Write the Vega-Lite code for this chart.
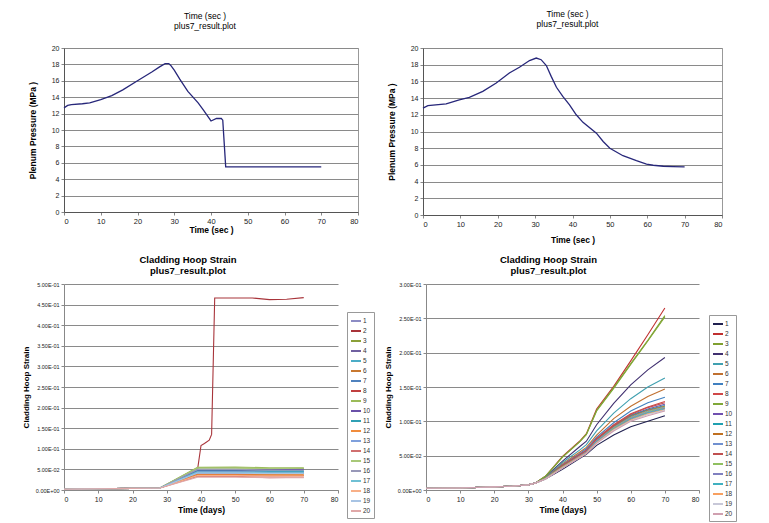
{
"$schema": "https://vega.github.io/schema/vega-lite/v6.json",
"padding": {"left": 22, "top": 9, "right": 0, "bottom": 0},
"background": "#ffffff",
"config": {
  "font": "Liberation Sans",
  "view": {"stroke": null},
  "axis": {"labelColor": "#222222", "titleColor": "#000000", "labelFont": "Liberation Sans", "titleFont": "Liberation Sans", "tickColor": "#888888", "domainColor": "#888888", "gridColor": "#8a8a8a", "gridOpacity": 1, "titleFontWeight": "bold", "tickSize": 3, "labelPadding": 2},
  "title": {"font": "Liberation Sans", "color": "#000000"},
  "legend": {"labelFont": "Liberation Sans", "labelColor": "#333333"}
},
"datasets": {
  "p1": [
    {"t":0,"v":12.7},{"t":1,"v":13.0},{"t":2,"v":13.1},{"t":5,"v":13.2},{"t":7,"v":13.3},{"t":10,"v":13.7},{"t":13,"v":14.2},{"t":16,"v":14.9},{"t":20,"v":16.0},{"t":24,"v":17.1},{"t":26,"v":17.7},{"t":27.5,"v":18.1},{"t":28.5,"v":18.1},{"t":29,"v":17.9},{"t":30,"v":17.3},{"t":31.5,"v":16.2},{"t":33.7,"v":14.7},{"t":36.5,"v":13.3},{"t":38,"v":12.4},{"t":40,"v":11.1},{"t":41.5,"v":11.4},{"t":42.8,"v":11.4},{"t":43.2,"v":11.2},{"t":44,"v":5.5},{"t":70,"v":5.5}
  ],
  "p2": [
    {"t":0,"v":12.8},{"t":1.3,"v":13.1},{"t":6.2,"v":13.3},{"t":9.7,"v":13.8},{"t":12.4,"v":14.1},{"t":16,"v":14.8},{"t":19.6,"v":15.8},{"t":23.1,"v":17.0},{"t":25.8,"v":17.7},{"t":28.5,"v":18.5},{"t":30.3,"v":18.8},{"t":31.6,"v":18.6},{"t":33,"v":17.9},{"t":34.3,"v":16.6},{"t":35.7,"v":15.3},{"t":37.4,"v":14.2},{"t":39.2,"v":13.2},{"t":41,"v":12.0},{"t":42.8,"v":11.1},{"t":46.4,"v":9.8},{"t":48.2,"v":8.8},{"t":50,"v":8.0},{"t":53.5,"v":7.1},{"t":57.1,"v":6.5},{"t":59.8,"v":6.1},{"t":61.6,"v":5.96},{"t":64.3,"v":5.84},{"t":66.9,"v":5.8},{"t":70,"v":5.76}
  ],
  "p3": [
    {"t":0,"s":1,"v":0.002},{"t":10,"s":1,"v":0.003},{"t":20,"s":1,"v":0.004},{"t":28,"s":1,"v":0.005},{"t":39,"s":1,"v":0.040},{"t":50,"s":1,"v":0.040},{"t":60,"s":1,"v":0.039},{"t":70,"s":1,"v":0.040},
    {"t":0,"s":2,"v":0.002},{"t":10,"s":2,"v":0.003},{"t":20,"s":2,"v":0.004},{"t":28,"s":2,"v":0.005},{"t":39,"s":2,"v":0.050},{"t":40,"s":2,"v":0.108},{"t":41,"s":2,"v":0.113},{"t":42.4,"s":2,"v":0.121},{"t":43.1,"s":2,"v":0.135},{"t":44,"s":2,"v":0.466},{"t":50,"s":2,"v":0.466},{"t":55,"s":2,"v":0.466},{"t":60,"s":2,"v":0.462},{"t":65,"s":2,"v":0.463},{"t":70,"s":2,"v":0.467},
    {"t":0,"s":3,"v":0.002},{"t":10,"s":3,"v":0.003},{"t":20,"s":3,"v":0.004},{"t":28,"s":3,"v":0.005},{"t":39,"s":3,"v":0.054},{"t":50,"s":3,"v":0.054},{"t":60,"s":3,"v":0.052},{"t":70,"s":3,"v":0.052},
    {"t":0,"s":4,"v":0.002},{"t":10,"s":4,"v":0.003},{"t":20,"s":4,"v":0.004},{"t":28,"s":4,"v":0.005},{"t":39,"s":4,"v":0.045},{"t":50,"s":4,"v":0.045},{"t":60,"s":4,"v":0.043},{"t":70,"s":4,"v":0.044},
    {"t":0,"s":5,"v":0.002},{"t":10,"s":5,"v":0.003},{"t":20,"s":5,"v":0.004},{"t":28,"s":5,"v":0.005},{"t":39,"s":5,"v":0.048},{"t":50,"s":5,"v":0.048},{"t":60,"s":5,"v":0.047},{"t":70,"s":5,"v":0.047},
    {"t":0,"s":6,"v":0.002},{"t":10,"s":6,"v":0.003},{"t":20,"s":6,"v":0.004},{"t":28,"s":6,"v":0.005},{"t":39,"s":6,"v":0.038},{"t":50,"s":6,"v":0.038},{"t":60,"s":6,"v":0.037},{"t":70,"s":6,"v":0.037},
    {"t":0,"s":7,"v":0.002},{"t":10,"s":7,"v":0.003},{"t":20,"s":7,"v":0.004},{"t":28,"s":7,"v":0.005},{"t":39,"s":7,"v":0.042},{"t":50,"s":7,"v":0.042},{"t":60,"s":7,"v":0.041},{"t":70,"s":7,"v":0.041},
    {"t":0,"s":8,"v":0.002},{"t":10,"s":8,"v":0.003},{"t":20,"s":8,"v":0.004},{"t":28,"s":8,"v":0.005},{"t":39,"s":8,"v":0.036},{"t":50,"s":8,"v":0.036},{"t":60,"s":8,"v":0.034},{"t":70,"s":8,"v":0.035},
    {"t":0,"s":9,"v":0.002},{"t":10,"s":9,"v":0.003},{"t":20,"s":9,"v":0.004},{"t":28,"s":9,"v":0.005},{"t":39,"s":9,"v":0.055},{"t":50,"s":9,"v":0.056},{"t":60,"s":9,"v":0.054},{"t":70,"s":9,"v":0.054},
    {"t":0,"s":10,"v":0.002},{"t":10,"s":10,"v":0.003},{"t":20,"s":10,"v":0.004},{"t":28,"s":10,"v":0.005},{"t":39,"s":10,"v":0.047},{"t":50,"s":10,"v":0.047},{"t":60,"s":10,"v":0.050},{"t":70,"s":10,"v":0.050},
    {"t":0,"s":11,"v":0.002},{"t":10,"s":11,"v":0.003},{"t":20,"s":11,"v":0.004},{"t":28,"s":11,"v":0.005},{"t":39,"s":11,"v":0.046},{"t":50,"s":11,"v":0.046},{"t":60,"s":11,"v":0.045},{"t":70,"s":11,"v":0.045},
    {"t":0,"s":12,"v":0.002},{"t":10,"s":12,"v":0.003},{"t":20,"s":12,"v":0.004},{"t":28,"s":12,"v":0.005},{"t":39,"s":12,"v":0.037},{"t":50,"s":12,"v":0.037},{"t":60,"s":12,"v":0.036},{"t":70,"s":12,"v":0.036},
    {"t":0,"s":13,"v":0.002},{"t":10,"s":13,"v":0.003},{"t":20,"s":13,"v":0.004},{"t":28,"s":13,"v":0.005},{"t":39,"s":13,"v":0.044},{"t":50,"s":13,"v":0.044},{"t":60,"s":13,"v":0.043},{"t":70,"s":13,"v":0.043},
    {"t":0,"s":14,"v":0.002},{"t":10,"s":14,"v":0.003},{"t":20,"s":14,"v":0.004},{"t":28,"s":14,"v":0.005},{"t":39,"s":14,"v":0.033},{"t":50,"s":14,"v":0.033},{"t":60,"s":14,"v":0.030},{"t":70,"s":14,"v":0.031},
    {"t":0,"s":15,"v":0.002},{"t":10,"s":15,"v":0.003},{"t":20,"s":15,"v":0.004},{"t":28,"s":15,"v":0.005},{"t":39,"s":15,"v":0.053},{"t":50,"s":15,"v":0.053},{"t":60,"s":15,"v":0.052},{"t":70,"s":15,"v":0.053},
    {"t":0,"s":16,"v":0.002},{"t":10,"s":16,"v":0.003},{"t":20,"s":16,"v":0.004},{"t":28,"s":16,"v":0.005},{"t":39,"s":16,"v":0.050},{"t":50,"s":16,"v":0.050},{"t":60,"s":16,"v":0.048},{"t":70,"s":16,"v":0.048},
    {"t":0,"s":17,"v":0.002},{"t":10,"s":17,"v":0.003},{"t":20,"s":17,"v":0.004},{"t":28,"s":17,"v":0.005},{"t":39,"s":17,"v":0.043},{"t":50,"s":17,"v":0.043},{"t":60,"s":17,"v":0.042},{"t":70,"s":17,"v":0.042},
    {"t":0,"s":18,"v":0.002},{"t":10,"s":18,"v":0.003},{"t":20,"s":18,"v":0.004},{"t":28,"s":18,"v":0.005},{"t":39,"s":18,"v":0.035},{"t":50,"s":18,"v":0.035},{"t":60,"s":18,"v":0.034},{"t":70,"s":18,"v":0.034},
    {"t":0,"s":19,"v":0.002},{"t":10,"s":19,"v":0.003},{"t":20,"s":19,"v":0.004},{"t":28,"s":19,"v":0.005},{"t":39,"s":19,"v":0.041},{"t":50,"s":19,"v":0.041},{"t":60,"s":19,"v":0.040},{"t":70,"s":19,"v":0.040},
    {"t":0,"s":20,"v":0.002},{"t":10,"s":20,"v":0.003},{"t":20,"s":20,"v":0.004},{"t":28,"s":20,"v":0.005},{"t":39,"s":20,"v":0.031},{"t":50,"s":20,"v":0.031},{"t":60,"s":20,"v":0.030},{"t":70,"s":20,"v":0.030}
  ],
  "p4": [
    {"t":0,"s":1,"v":0.0025},{"t":10,"s":1,"v":0.003},{"t":20,"s":1,"v":0.0045},{"t":25,"s":1,"v":0.0055},{"t":30,"s":1,"v":0.0075},{"t":32,"s":1,"v":0.010},{"t":35,"s":1,"v":0.016},{"t":40,"s":1,"v":0.030},{"t":45,"s":1,"v":0.046},{"t":47,"s":1,"v":0.052},{"t":50,"s":1,"v":0.065},{"t":55,"s":1,"v":0.080},{"t":60,"s":1,"v":0.092},{"t":65,"s":1,"v":0.100},{"t":70,"s":1,"v":0.108},
    {"t":0,"s":2,"v":0.0025},{"t":10,"s":2,"v":0.003},{"t":20,"s":2,"v":0.0045},{"t":25,"s":2,"v":0.0055},{"t":30,"s":2,"v":0.0075},{"t":32,"s":2,"v":0.010},{"t":35,"s":2,"v":0.020},{"t":40,"s":2,"v":0.049},{"t":45,"s":2,"v":0.071},{"t":47,"s":2,"v":0.082},{"t":50,"s":2,"v":0.118},{"t":55,"s":2,"v":0.151},{"t":60,"s":2,"v":0.188},{"t":65,"s":2,"v":0.226},{"t":70,"s":2,"v":0.265},
    {"t":0,"s":3,"v":0.0025},{"t":10,"s":3,"v":0.003},{"t":20,"s":3,"v":0.0045},{"t":25,"s":3,"v":0.0055},{"t":30,"s":3,"v":0.0075},{"t":32,"s":3,"v":0.010},{"t":35,"s":3,"v":0.020},{"t":40,"s":3,"v":0.048},{"t":45,"s":3,"v":0.070},{"t":47,"s":3,"v":0.081},{"t":50,"s":3,"v":0.116},{"t":55,"s":3,"v":0.149},{"t":60,"s":3,"v":0.184},{"t":65,"s":3,"v":0.218},{"t":70,"s":3,"v":0.254},
    {"t":0,"s":4,"v":0.0025},{"t":10,"s":4,"v":0.003},{"t":20,"s":4,"v":0.0045},{"t":25,"s":4,"v":0.0055},{"t":30,"s":4,"v":0.0075},{"t":32,"s":4,"v":0.010},{"t":35,"s":4,"v":0.019},{"t":40,"s":4,"v":0.042},{"t":45,"s":4,"v":0.063},{"t":47,"s":4,"v":0.071},{"t":50,"s":4,"v":0.095},{"t":55,"s":4,"v":0.126},{"t":60,"s":4,"v":0.153},{"t":65,"s":4,"v":0.175},{"t":70,"s":4,"v":0.193},
    {"t":0,"s":5,"v":0.0025},{"t":10,"s":5,"v":0.003},{"t":20,"s":5,"v":0.0045},{"t":25,"s":5,"v":0.0055},{"t":30,"s":5,"v":0.0075},{"t":32,"s":5,"v":0.010},{"t":35,"s":5,"v":0.018},{"t":40,"s":5,"v":0.040},{"t":45,"s":5,"v":0.058},{"t":47,"s":5,"v":0.066},{"t":50,"s":5,"v":0.086},{"t":55,"s":5,"v":0.112},{"t":60,"s":5,"v":0.133},{"t":65,"s":5,"v":0.150},{"t":70,"s":5,"v":0.163},
    {"t":0,"s":6,"v":0.0025},{"t":10,"s":6,"v":0.003},{"t":20,"s":6,"v":0.0045},{"t":25,"s":6,"v":0.0055},{"t":30,"s":6,"v":0.0075},{"t":32,"s":6,"v":0.010},{"t":35,"s":6,"v":0.018},{"t":40,"s":6,"v":0.038},{"t":45,"s":6,"v":0.055},{"t":47,"s":6,"v":0.062},{"t":50,"s":6,"v":0.080},{"t":55,"s":6,"v":0.104},{"t":60,"s":6,"v":0.122},{"t":65,"s":6,"v":0.136},{"t":70,"s":6,"v":0.147},
    {"t":0,"s":7,"v":0.0025},{"t":10,"s":7,"v":0.003},{"t":20,"s":7,"v":0.0045},{"t":25,"s":7,"v":0.0055},{"t":30,"s":7,"v":0.0075},{"t":32,"s":7,"v":0.010},{"t":35,"s":7,"v":0.018},{"t":40,"s":7,"v":0.037},{"t":45,"s":7,"v":0.053},{"t":47,"s":7,"v":0.060},{"t":50,"s":7,"v":0.077},{"t":55,"s":7,"v":0.098},{"t":60,"s":7,"v":0.115},{"t":65,"s":7,"v":0.127},{"t":70,"s":7,"v":0.135},
    {"t":0,"s":8,"v":0.0025},{"t":10,"s":8,"v":0.003},{"t":20,"s":8,"v":0.0045},{"t":25,"s":8,"v":0.0055},{"t":30,"s":8,"v":0.0075},{"t":32,"s":8,"v":0.010},{"t":35,"s":8,"v":0.017},{"t":40,"s":8,"v":0.036},{"t":45,"s":8,"v":0.052},{"t":47,"s":8,"v":0.058},{"t":50,"s":8,"v":0.075},{"t":55,"s":8,"v":0.095},{"t":60,"s":8,"v":0.111},{"t":65,"s":8,"v":0.121},{"t":70,"s":8,"v":0.129},
    {"t":0,"s":9,"v":0.0025},{"t":10,"s":9,"v":0.003},{"t":20,"s":9,"v":0.0045},{"t":25,"s":9,"v":0.0055},{"t":30,"s":9,"v":0.0075},{"t":32,"s":9,"v":0.010},{"t":35,"s":9,"v":0.020},{"t":40,"s":9,"v":0.048},{"t":45,"s":9,"v":0.070},{"t":47,"s":9,"v":0.081},{"t":50,"s":9,"v":0.115},{"t":55,"s":9,"v":0.148},{"t":60,"s":9,"v":0.183},{"t":65,"s":9,"v":0.217},{"t":70,"s":9,"v":0.252},
    {"t":0,"s":10,"v":0.0025},{"t":10,"s":10,"v":0.003},{"t":20,"s":10,"v":0.0045},{"t":25,"s":10,"v":0.0055},{"t":30,"s":10,"v":0.0075},{"t":32,"s":10,"v":0.010},{"t":35,"s":10,"v":0.017},{"t":40,"s":10,"v":0.035},{"t":45,"s":10,"v":0.051},{"t":47,"s":10,"v":0.057},{"t":50,"s":10,"v":0.074},{"t":55,"s":10,"v":0.093},{"t":60,"s":10,"v":0.109},{"t":65,"s":10,"v":0.118},{"t":70,"s":10,"v":0.125},
    {"t":0,"s":11,"v":0.0025},{"t":10,"s":11,"v":0.003},{"t":20,"s":11,"v":0.0045},{"t":25,"s":11,"v":0.0055},{"t":30,"s":11,"v":0.0075},{"t":32,"s":11,"v":0.010},{"t":35,"s":11,"v":0.017},{"t":40,"s":11,"v":0.035},{"t":45,"s":11,"v":0.051},{"t":47,"s":11,"v":0.057},{"t":50,"s":11,"v":0.073},{"t":55,"s":11,"v":0.093},{"t":60,"s":11,"v":0.108},{"t":65,"s":11,"v":0.117},{"t":70,"s":11,"v":0.123},
    {"t":0,"s":12,"v":0.0025},{"t":10,"s":12,"v":0.003},{"t":20,"s":12,"v":0.0045},{"t":25,"s":12,"v":0.0055},{"t":30,"s":12,"v":0.0075},{"t":32,"s":12,"v":0.010},{"t":35,"s":12,"v":0.017},{"t":40,"s":12,"v":0.035},{"t":45,"s":12,"v":0.050},{"t":47,"s":12,"v":0.056},{"t":50,"s":12,"v":0.073},{"t":55,"s":12,"v":0.092},{"t":60,"s":12,"v":0.107},{"t":65,"s":12,"v":0.116},{"t":70,"s":12,"v":0.122},
    {"t":0,"s":13,"v":0.0025},{"t":10,"s":13,"v":0.003},{"t":20,"s":13,"v":0.0045},{"t":25,"s":13,"v":0.0055},{"t":30,"s":13,"v":0.0075},{"t":32,"s":13,"v":0.010},{"t":35,"s":13,"v":0.017},{"t":40,"s":13,"v":0.034},{"t":45,"s":13,"v":0.050},{"t":47,"s":13,"v":0.056},{"t":50,"s":13,"v":0.072},{"t":55,"s":13,"v":0.091},{"t":60,"s":13,"v":0.106},{"t":65,"s":13,"v":0.115},{"t":70,"s":13,"v":0.121},
    {"t":0,"s":14,"v":0.0025},{"t":10,"s":14,"v":0.003},{"t":20,"s":14,"v":0.0045},{"t":25,"s":14,"v":0.0055},{"t":30,"s":14,"v":0.0075},{"t":32,"s":14,"v":0.010},{"t":35,"s":14,"v":0.017},{"t":40,"s":14,"v":0.035},{"t":45,"s":14,"v":0.051},{"t":47,"s":14,"v":0.057},{"t":50,"s":14,"v":0.074},{"t":55,"s":14,"v":0.094},{"t":60,"s":14,"v":0.110},{"t":65,"s":14,"v":0.120},{"t":70,"s":14,"v":0.127},
    {"t":0,"s":15,"v":0.0025},{"t":10,"s":15,"v":0.003},{"t":20,"s":15,"v":0.0045},{"t":25,"s":15,"v":0.0055},{"t":30,"s":15,"v":0.0075},{"t":32,"s":15,"v":0.010},{"t":35,"s":15,"v":0.017},{"t":40,"s":15,"v":0.034},{"t":45,"s":15,"v":0.049},{"t":47,"s":15,"v":0.055},{"t":50,"s":15,"v":0.071},{"t":55,"s":15,"v":0.090},{"t":60,"s":15,"v":0.105},{"t":65,"s":15,"v":0.114},{"t":70,"s":15,"v":0.120},
    {"t":0,"s":16,"v":0.0025},{"t":10,"s":16,"v":0.003},{"t":20,"s":16,"v":0.0045},{"t":25,"s":16,"v":0.0055},{"t":30,"s":16,"v":0.0075},{"t":32,"s":16,"v":0.010},{"t":35,"s":16,"v":0.016},{"t":40,"s":16,"v":0.033},{"t":45,"s":16,"v":0.049},{"t":47,"s":16,"v":0.055},{"t":50,"s":16,"v":0.071},{"t":55,"s":16,"v":0.089},{"t":60,"s":16,"v":0.104},{"t":65,"s":16,"v":0.113},{"t":70,"s":16,"v":0.119},
    {"t":0,"s":17,"v":0.0025},{"t":10,"s":17,"v":0.003},{"t":20,"s":17,"v":0.0045},{"t":25,"s":17,"v":0.0055},{"t":30,"s":17,"v":0.0075},{"t":32,"s":17,"v":0.010},{"t":35,"s":17,"v":0.016},{"t":40,"s":17,"v":0.033},{"t":45,"s":17,"v":0.048},{"t":47,"s":17,"v":0.054},{"t":50,"s":17,"v":0.070},{"t":55,"s":17,"v":0.089},{"t":60,"s":17,"v":0.103},{"t":65,"s":17,"v":0.112},{"t":70,"s":17,"v":0.118},
    {"t":0,"s":18,"v":0.0025},{"t":10,"s":18,"v":0.003},{"t":20,"s":18,"v":0.0045},{"t":25,"s":18,"v":0.0055},{"t":30,"s":18,"v":0.0075},{"t":32,"s":18,"v":0.010},{"t":35,"s":18,"v":0.016},{"t":40,"s":18,"v":0.033},{"t":45,"s":18,"v":0.048},{"t":47,"s":18,"v":0.054},{"t":50,"s":18,"v":0.069},{"t":55,"s":18,"v":0.088},{"t":60,"s":18,"v":0.102},{"t":65,"s":18,"v":0.111},{"t":70,"s":18,"v":0.117},
    {"t":0,"s":19,"v":0.0025},{"t":10,"s":19,"v":0.003},{"t":20,"s":19,"v":0.0045},{"t":25,"s":19,"v":0.0055},{"t":30,"s":19,"v":0.0075},{"t":32,"s":19,"v":0.010},{"t":35,"s":19,"v":0.016},{"t":40,"s":19,"v":0.032},{"t":45,"s":19,"v":0.047},{"t":47,"s":19,"v":0.053},{"t":50,"s":19,"v":0.068},{"t":55,"s":19,"v":0.087},{"t":60,"s":19,"v":0.101},{"t":65,"s":19,"v":0.110},{"t":70,"s":19,"v":0.116},
    {"t":0,"s":20,"v":0.0025},{"t":10,"s":20,"v":0.003},{"t":20,"s":20,"v":0.0045},{"t":25,"s":20,"v":0.0055},{"t":30,"s":20,"v":0.0075},{"t":32,"s":20,"v":0.010},{"t":35,"s":20,"v":0.016},{"t":40,"s":20,"v":0.032},{"t":45,"s":20,"v":0.047},{"t":47,"s":20,"v":0.053},{"t":50,"s":20,"v":0.068},{"t":55,"s":20,"v":0.086},{"t":60,"s":20,"v":0.100},{"t":65,"s":20,"v":0.108},{"t":70,"s":20,"v":0.115}
  ]
},
"spacing": 9,
"resolve": {"scale": {"color": "independent"}, "legend": {"color": "independent"}},
"vconcat": [
  {
    "hconcat": [
      {
        "width": 294, "height": 164,
        "view": {"stroke": "#999999"},
        "title": {"text": ["Time (sec )", "plus7_result.plot"], "fontSize": 8.5, "fontWeight": "normal", "offset": 14, "dx": -6, "lineHeight": 10},
        "data": {"name": "p1"},
        "mark": {"type": "line", "color": "#27277a", "strokeWidth": 1.3},
        "encoding": {
          "x": {"field": "t", "type": "quantitative", "scale": {"domain": [0, 80], "nice": false},
                "axis": {"values": [0,10,20,30,40,50,60,70,80], "grid": false, "title": "Time (sec )", "titlePadding": 1, "labelFontSize": 7.5, "titleFontSize": 8.5, "domainColor": "#555555"}},
          "y": {"field": "v", "type": "quantitative", "scale": {"domain": [0, 20], "nice": false},
                "axis": {"values": [0,2,4,6,8,10,12,14,16,18,20], "grid": true, "title": "Plenum Pressure (MPa )", "labelFontSize": 7, "titleFontSize": 8.5, "titlePadding": 14, "domainColor": "#555555"}}
        }
      },
      {
        "width": 299, "height": 167,
        "view": {"stroke": "#999999"},
        "title": {"text": ["Time (sec )", "plus7_result.plot"], "fontSize": 8.5, "fontWeight": "normal", "offset": 16, "dx": -5, "lineHeight": 10},
        "data": {"name": "p2"},
        "mark": {"type": "line", "color": "#27277a", "strokeWidth": 1.3},
        "encoding": {
          "x": {"field": "t", "type": "quantitative", "scale": {"domain": [0, 80], "nice": false},
                "axis": {"values": [0,10,20,30,40,50,60,70,80], "grid": false, "title": "Time (sec )", "titlePadding": 8, "labelFontSize": 7.5, "titleFontSize": 8.5, "domainColor": "#555555"}},
          "y": {"field": "v", "type": "quantitative", "scale": {"domain": [0, 20], "nice": false},
                "axis": {"values": [0,2,4,6,8,10,12,14,16,18,20], "grid": true, "title": "Plenum Pressure (MPa )", "labelFontSize": 7, "titleFontSize": 8.5, "titlePadding": 14, "domainColor": "#555555"}}
        }
      }
    ],
    "spacing": 65,
    "bounds": "flush"
  },
  {
    "resolve": {"scale": {"color": "independent"}, "legend": {"color": "independent"}},
    "hconcat": [
      {
        "width": 274, "height": 206,
        "title": {"text": ["Cladding Hoop Strain", "plus7_result.plot"], "fontSize": 9.5, "fontWeight": "bold", "offset": 7, "dx": -13, "lineHeight": 11},
        "data": {"name": "p3"},
        "mark": {"type": "line", "strokeWidth": 1.1},
        "encoding": {
          "x": {"field": "t", "type": "quantitative", "scale": {"domain": [0, 80], "nice": false},
                "axis": {"values": [0,10,20,30,40,50,60,70,80], "grid": false, "title": "Time (days)", "titlePadding": 3, "labelFontSize": 7, "titleFontSize": 8.5}},
          "y": {"field": "v", "type": "quantitative", "scale": {"domain": [0, 0.5], "nice": false},
                "axis": {"values": [0,0.05,0.1,0.15,0.2,0.25,0.3,0.35,0.4,0.45,0.5], "grid": true, "title": "Cladding Hoop Strain", "labelFontSize": 5.5, "titleFontSize": 8, "titlePadding": 5,
                         "labelExpr": "replace(replace(format(datum.value, '.2e'), 'e-', 'E-0'), 'e+', 'E+0')"}},
          "color": {"field": "s", "type": "ordinal",
                    "scale": {"domain": [1,2,3,4,5,6,7,8,9,10,11,12,13,14,15,16,17,18,19,20],
                              "range": ["#8c8cc4","#a8343a","#8aa038","#7060a0","#4bacc6","#c87830","#4f81bd","#c04040","#9bbb59","#6a50a8","#30a0b4","#f08c3c","#7fa0dc","#d07070","#a8c878","#9898b8","#70c0d4","#f8b088","#a8c4e4","#e0a8a8"]},
                    "legend": {"orient": "none", "legendX": 283, "legendY": 28, "title": null, "symbolType": "stroke", "symbolSize": 100, "symbolStrokeWidth": 2, "labelFontSize": 6.5, "rowPadding": 0, "strokeColor": "#999999", "padding": 3, "fillColor": "#ffffff", "labelOffset": 1}},
          "strokeWidth": {"condition": {"test": "datum.s == 2", "value": 1.8}, "value": 1.1}
        }
      },
      {
        "width": 273, "height": 206,
        "title": {"text": ["Cladding Hoop Strain", "plus7_result.plot"], "fontSize": 9.5, "fontWeight": "bold", "offset": 7, "dx": -14, "lineHeight": 11},
        "data": {"name": "p4"},
        "mark": {"type": "line", "strokeWidth": 1.1},
        "encoding": {
          "x": {"field": "t", "type": "quantitative", "scale": {"domain": [0, 80], "nice": false},
                "axis": {"values": [0,10,20,30,40,50,60,70,80], "grid": false, "title": "Time (days)", "titlePadding": 3, "labelFontSize": 7, "titleFontSize": 8.5}},
          "y": {"field": "v", "type": "quantitative", "scale": {"domain": [0, 0.3], "nice": false},
                "axis": {"values": [0,0.05,0.1,0.15,0.2,0.25,0.3], "grid": true, "title": "Cladding Hoop Strain", "labelFontSize": 5.5, "titleFontSize": 8, "titlePadding": 5,
                         "labelExpr": "replace(replace(format(datum.value, '.2e'), 'e-', 'E-0'), 'e+', 'E+0')"}},
          "color": {"field": "s", "type": "ordinal",
                    "scale": {"domain": [1,2,3,4,5,6,7,8,9,10,11,12,13,14,15,16,17,18,19,20],
                              "range": ["#202050","#c03030","#80a030","#403070","#40a0b0","#c07030","#4080c0","#d04848","#80a838","#7050b0","#20a0b0","#c07020","#7090d0","#c05050","#90c060","#8080c0","#40b0c0","#f8a060","#c8c8d8","#d0a0b0"]},
                    "legend": {"orient": "none", "legendX": 283, "legendY": 31, "title": null, "symbolType": "stroke", "symbolSize": 100, "symbolStrokeWidth": 2, "labelFontSize": 6.5, "rowPadding": 0, "strokeColor": "#999999", "padding": 3, "fillColor": "#ffffff", "labelOffset": 1}}
        }
      }
    ],
    "spacing": 88,
    "bounds": "flush"
  }
]
}
